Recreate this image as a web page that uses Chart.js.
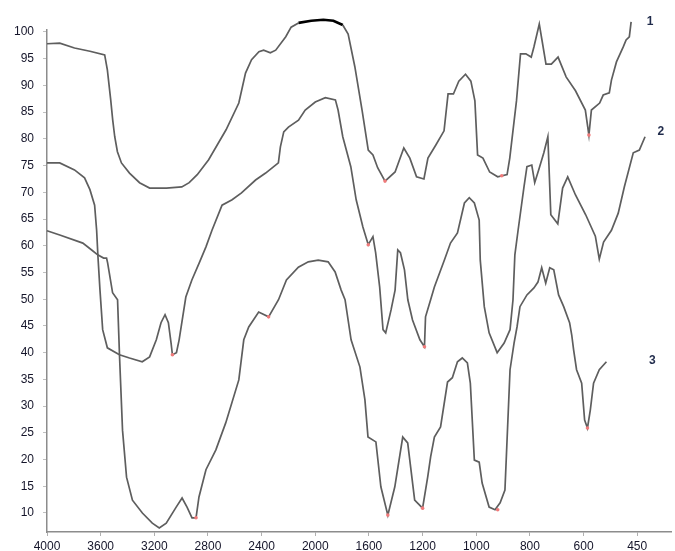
<!DOCTYPE html>
<html>
<head>
<meta charset="utf-8">
<title>IR spectra</title>
<script src="https://cdn.jsdelivr.net/npm/chart.js@4/dist/chart.umd.min.js"></script>
<style>
  body { margin: 0; background: #fff; }
  canvas { display: block; }
</style>
</head>
<body>
<canvas id="chart" width="675" height="551"></canvas>
<script>
// axis labels (the wavenumber axis is not linear, ticks are evenly spaced)
const xTickLabels = [4000, 3600, 3200, 2800, 2400, 2000, 1600, 1200, 1000, 800, 600, 450];
const yTickLabels = [10, 15, 20, 25, 30, 35, 40, 45, 50, 55, 60, 65, 70, 75, 80, 85, 90, 95, 100];
const seriesNames = ["1", "2", "3"];

// spectrum 1
const wn1 = [4000, 3905, 3795, 3680, 3570, 3550, 3525, 3510, 3495, 3475, 3445, 3385, 3310, 3235, 3110,
  2995, 2940, 2880, 2795, 2665, 2570, 2520, 2475, 2420, 2385, 2335, 2295, 2220, 2180, 2125, 2030, 1940,
  1865, 1795, 1755, 1705, 1650, 1605, 1570, 1535, 1480, 1405, 1340, 1295, 1245, 1195, 1180, 1150, 1120,
  1105, 1085, 1065, 1040, 1020, 1005, 995, 975, 950, 920, 885, 875, 850, 835, 815, 795, 785, 765, 755,
  740, 720, 695, 665, 630, 595, 585, 578, 555, 545, 528, 522, 508, 489, 481, 472, 467];
const t1 = [97.8, 97.9, 97.0, 96.4, 95.7, 92.9, 87.3, 83.5, 80.4, 77.6, 75.5, 73.6, 71.8, 70.8, 70.8,
  71.0, 71.8, 73.3, 76.1, 81.7, 86.7, 92.3, 94.8, 96.3, 96.6, 96.1, 96.6, 99.1, 100.9, 101.7, 102.1, 102.3,
  102.1, 101.3, 99.6, 93.5, 85.2, 77.9, 77.0, 74.6, 72.1, 73.8, 78.3, 76.4, 72.9, 72.5, 76.4, 78.9, 81.5,
  88.4, 88.4, 90.8, 92.1, 90.8, 87.1, 77.0, 76.4, 73.8, 72.9, 73.3, 76.4, 87.1, 95.9, 95.9, 95.3, 97.2, 101.5, 98.5,
  94.0, 94.0, 95.3, 91.6, 89.0, 85.4, 80.7, 85.4, 86.7, 88.2, 88.6, 91.0, 94.4, 97.2, 98.5, 99.1, 101.9];

// spectrum 2
const wn2 = [4000, 3905, 3795, 3720, 3680, 3645, 3630, 3620, 3605, 3585, 3550, 3460, 3385, 3290, 3235,
  3185, 3150, 3120, 3095, 3075, 3065, 3035, 3015, 2965, 2920, 2865, 2815, 2770, 2695, 2620, 2550, 2445,
  2370, 2275, 2260, 2235, 2200, 2125, 2075, 2000, 1925, 1850, 1830, 1795, 1735, 1695, 1645, 1605, 1570,
  1550, 1520, 1495, 1475, 1435, 1405, 1385, 1365, 1335, 1310, 1275, 1220, 1193, 1189, 1170, 1156, 1119,
  1096, 1070, 1044, 1026, 1007, 989, 985, 970, 952, 922, 896, 874, 863, 856, 844, 822, 811, 793, 782,
  767, 748, 733, 722, 696, 678, 659, 630, 594, 567, 556, 544, 522, 503, 486, 461, 444, 428];
const t2 = [75.5, 75.5, 74.2, 72.7, 70.5, 67.6, 62.9, 57.9, 51.7, 44.3, 40.9, 39.6, 39.0, 38.3, 39.2,
  42.4, 45.6, 47.1, 45.6, 41.8, 39.6, 40.0, 42.4, 50.4, 53.6, 56.8, 59.8, 62.9, 67.6, 68.6, 69.9, 72.3,
  73.6, 75.5, 78.5, 81.3, 82.2, 83.5, 85.4, 86.9, 87.7, 87.3, 85.4, 80.4, 74.8, 68.6, 63.5, 60.2, 61.7,
  58.7, 52.3, 44.3, 43.7, 48.0, 51.7, 59.2, 58.7, 55.5, 49.9, 46.1, 42.4, 41.1, 46.7, 49.9, 52.3, 57.3,
  60.5, 62.4, 68.0, 69.0, 68.0, 64.8, 57.3, 48.6, 43.7, 40.0, 41.8, 44.3, 49.9, 58.3, 62.9, 71.0, 74.8, 75.1, 71.8,
  74.2, 77.4, 80.4, 65.8, 64.1, 70.8, 72.9, 69.5, 65.8, 61.8, 57.5, 60.7, 62.9, 66.1, 71.0, 77.4, 77.9, 80.4];

// spectrum 3
const wn3 = [4000, 3905, 3733, 3667, 3622, 3578, 3556, 3548, 3511, 3474, 3459, 3437, 3407, 3363, 3289,
  3215, 3163, 3111, 3037, 2993, 2956, 2919, 2889, 2867, 2815, 2741, 2667, 2570, 2533, 2496, 2422, 2348,
  2274, 2215, 2126, 2052, 1978, 1904, 1852, 1807, 1778, 1733, 1667, 1630, 1607, 1548, 1511, 1459, 1407,
  1348, 1311, 1259, 1200, 1181, 1170, 1156, 1133, 1107, 1089, 1070, 1052, 1033, 1022, 1007, 989, 978,
  952, 930, 911, 893, 874, 859, 848, 837, 811, 785, 770, 756, 741, 726, 711, 693, 674, 652, 644, 637,
  626, 607, 597, 589, 581, 572, 556, 536];
const t3 = [62.8, 62.0, 60.5, 59.2, 58.3, 57.7, 57.7, 56.8, 51.2, 49.9, 39.2, 25.5, 16.7, 12.4, 10.0,
  8.1, 7.2, 8.1, 11.1, 12.8, 11.1, 9.1, 9.1, 13.0, 18.1, 21.8, 26.9, 34.9, 42.4, 44.8, 47.6, 46.7,
  49.9, 53.6, 56.0, 57.0, 57.3, 57.0, 55.1, 51.7, 49.9, 42.4, 37.3, 31.2, 24.2, 23.3, 14.9, 9.6, 14.9,
  24.2, 23.1, 12.4, 10.9, 16.7, 20.5, 24.2, 26.1, 34.5, 35.3, 38.3, 39.0, 38.1, 34.3, 19.9, 19.5, 15.6,
  11.1, 10.6, 11.9, 14.3, 36.8, 41.8, 44.8, 48.6, 50.8, 52.1, 53.2, 55.9, 53.0, 55.9, 55.5, 50.8, 48.6, 45.6, 43.3, 40.5,
  36.8, 34.3, 27.4, 25.9, 29.3, 34.3, 36.8, 38.3];

// little red marks left on some band minima
const markWn = [1480, 905, 3065, 1605, 1193, 2889, 2348, 1459, 1200, 920, 585, 589];
const markT = [72.1, 73.1, 39.6, 60.2, 41.1, 9.1, 46.7, 9.6, 10.9, 10.6, 80.7, 25.9];

// wavenumber -> position along the evenly spaced tick marks
function toPos(wn) {
  const n = xTickLabels.length;
  if (wn >= xTickLabels[0]) return (xTickLabels[0] - wn) / (xTickLabels[0] - xTickLabels[1]);
  for (let i = 0; i < n - 1; i++) {
    const a = xTickLabels[i], b = xTickLabels[i + 1];
    if (wn <= a && wn >= b) return i + (a - wn) / (a - b);
  }
  const a = xTickLabels[n - 2], b = xTickLabels[n - 1];
  return n - 1 + (b - wn) / (a - b);
}

function toPoints(wn, t) {
  return wn.map((w, i) => ({ x: toPos(w), y: t[i] }));
}

const lineColor = "#5e5e5e";

function spectrum(name, wn, t) {
  return {
    label: name,
    data: toPoints(wn, t),
    borderColor: lineColor,
    borderWidth: 1.7,
    pointRadius: 0,
    tension: 0,
    clip: false,
    order: 1,
    segment: {
      // the bit of curve 1 above 100 % is drawn in black in the scan
      borderColor: (ctx) => (ctx.p0.parsed.y > 101 && ctx.p1.parsed.y > 101 ? "#000" : undefined),
      borderWidth: (ctx) => (ctx.p0.parsed.y > 101 && ctx.p1.parsed.y > 101 ? 2.6 : undefined),
    },
  };
}

// curve numbers, placed in axis units
const labelSpots = [[11.24, 101.9], [11.44, 81.3], [11.28, 38.5]];

const seriesLabels = {
  id: "seriesLabels",
  afterDatasetsDraw(chart) {
    const { ctx, scales: { x, y } } = chart;
    ctx.save();
    ctx.font = "bold 12px 'Liberation Sans', Arial, sans-serif";
    ctx.fillStyle = "#1f2a4a";
    ctx.textAlign = "center";
    ctx.textBaseline = "middle";
    labelSpots.forEach((s, i) => {
      ctx.fillText(seriesNames[i], x.getPixelForValue(s[0]), y.getPixelForValue(s[1]));
    });
    ctx.restore();
  },
};

const tickFont = { family: "'Liberation Sans', Arial, sans-serif", size: 12 };

new Chart(document.getElementById("chart").getContext("2d"), {
  type: "line",
  data: {
    datasets: [
      spectrum(seriesNames[0], wn1, t1),
      spectrum(seriesNames[1], wn2, t2),
      spectrum(seriesNames[2], wn3, t3),
      {
        label: "marks",
        type: "scatter",
        data: toPoints(markWn, markT),
        pointRadius: 1.8,
        pointBackgroundColor: "#f07a7a",
        pointBorderWidth: 0,
        showLine: false,
        clip: false,
        order: 0,
      },
    ],
  },
  options: {
    responsive: false,
    animation: false,
    layout: { padding: { top: 30, right: 0, bottom: 0, left: 0 } },
    plugins: {
      legend: { display: false },
      tooltip: { enabled: false },
    },
    scales: {
      x: {
        type: "linear",
        min: 0,
        max: 11.63,
        afterBuildTicks: (scale) => {
          scale.ticks = xTickLabels.map((_, i) => ({ value: i }));
        },
        afterFit: (scale) => {
          scale.height = 19;
        },
        ticks: {
          font: tickFont,
          color: "#15152a",
          padding: 3,
          maxRotation: 0,
          autoSkip: false,
          callback: (value) => xTickLabels[value],
        },
        grid: { drawOnChartArea: false, drawTicks: true, tickLength: 4, color: "#b0b0b0" },
        border: { color: "#8c8c8c", width: 1.5 },
      },
      y: {
        type: "linear",
        min: 6.44,
        max: 100.37,
        afterBuildTicks: (scale) => {
          scale.ticks = yTickLabels.map((v) => ({ value: v }));
        },
        afterFit: (scale) => {
          scale.width = 47;
        },
        ticks: {
          font: tickFont,
          color: "#15152a",
          padding: 9,
          autoSkip: false,
        },
        grid: { drawOnChartArea: false, drawTicks: true, tickLength: 4, color: "#c0c0c0" },
        border: { color: "#8c8c8c", width: 1.5 },
      },
    },
  },
  plugins: [seriesLabels],
});
</script>
</body>
</html>
